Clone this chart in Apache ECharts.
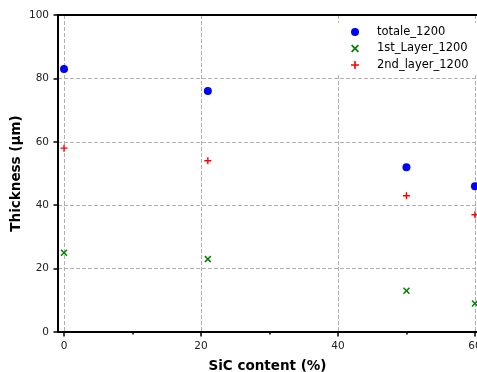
<!DOCTYPE html>
<html>
<head>
<meta charset="utf-8">
<script src="https://cdn.jsdelivr.net/npm/echarts@6/dist/echarts.min.js"></script>
<style>
html,body{margin:0;padding:0;background:#fff;}
#c{width:477px;height:372px;}
</style>
</head>
<body>
<div id="c"></div>
<script>
const sicContent = [0, 21, 50, 60];
const totale1200 = [83, 76, 52, 46];
const layer1st1200 = [25, 23, 13, 9];
const layer2nd1200 = [58, 54, 43, 37];
const xTicks = [0, 20, 40, 60];
const xMinorTicks = [10, 30, 50];
const seriesNames = ['totale_1200', '1st_Layer_1200', '2nd_layer_1200'];

const FONT = 'DejaVu Sans';
const xMin = -0.88, xMax = 60.3;
const crossPath = 'path://M0,1.5L1.5,0L5,3.5L8.5,0L10,1.5L6.5,5L10,8.5L8.5,10L5,6.5L1.5,10L0,8.5L3.5,5Z';
const plusPath = 'path://M4,0H6V4H10V6H6V10H4V6H0V4H4Z';

function pairs(xs, ys) { return xs.map((x, i) => [x, ys[i]]); }

const chart = echarts.init(document.getElementById('c'), null, {renderer: 'canvas'});
chart.setOption({
  animation: false,
  backgroundColor: '#fff',
  grid: {left: 58, right: 0, top: 15, bottom: 40, containLabel: false, outerBoundsMode: 'none'},
  legend: {
    orient: 'vertical',
    left: 336,
    top: 23,
    padding: [3, 10, 2, 15],
    backgroundColor: '#fff',
    itemWidth: 8,
    itemHeight: 8,
    itemGap: 4.5,
    data: seriesNames,
    formatter: n => '{a|' + n + '}',
    textStyle: {
      fontFamily: FONT, fontSize: 11.5, color: '#000', lineHeight: 12,
      rich: {a: {fontFamily: FONT, fontSize: 11.5, color: '#000', padding: [0, 0, 0, 13]}}
    }
  },
  xAxis: [
    {
      type: 'value', min: xMin, max: xMax, minInterval: 20, maxInterval: 20,
      name: 'SiC content (%)', nameLocation: 'middle', nameGap: 27, nameMoveOverlap: false,
      nameTextStyle: {fontFamily: FONT, fontSize: 13.5, fontWeight: 'bold', color: '#000'},
      axisLine: {show: true, onZero: false, lineStyle: {color: '#000', width: 2}},
      axisTick: {show: true, length: 4.5, lineStyle: {color: '#000', width: 1.5}, customValues: xTicks},
      axisLabel: {fontFamily: FONT, fontSize: 10.5, color: '#222', margin: 9, customValues: xTicks,
        formatter: v => (xTicks.indexOf(v) >= 0 ? String(v) : '')},
      splitLine: {show: true, lineStyle: {color: '#b0b0b0', width: 1, type: [4, 2]}}
    },
    {
      type: 'value', min: xMin, max: xMax, position: 'bottom',
      axisLine: {show: false},
      axisTick: {show: true, length: 2.5, lineStyle: {color: '#000', width: 1.5}, customValues: xMinorTicks},
      axisLabel: {show: false},
      splitLine: {show: false}
    },
    {
      type: 'value', min: xMin, max: xMax, position: 'top',
      axisLine: {show: true, onZero: false, lineStyle: {color: '#000', width: 2}},
      axisTick: {show: false}, axisLabel: {show: false}, splitLine: {show: false}
    }
  ],
  yAxis: {
    type: 'value', min: 0, max: 100, interval: 20,
    name: 'Thickness (µm)', nameLocation: 'middle', nameGap: 35, nameRotate: 90, nameMoveOverlap: false,
    nameTextStyle: {fontFamily: FONT, fontSize: 13.5, fontWeight: 'bold', color: '#000'},
    axisLine: {show: true, onZero: false, lineStyle: {color: '#000', width: 2}},
    axisTick: {show: true, length: 4.5, lineStyle: {color: '#000', width: 1.5}},
    axisLabel: {fontFamily: FONT, fontSize: 10.5, color: '#222', margin: 9},
    splitLine: {show: true, lineStyle: {color: '#b0b0b0', width: 1, type: [4, 2]}}
  },
  series: [
    {name: seriesNames[0], type: 'scatter', data: pairs(sicContent, totale1200), symbol: 'circle', symbolSize: 8,
      itemStyle: {color: '#0000ff', opacity: 1}, clip: false},
    {name: seriesNames[1], type: 'scatter', data: pairs(sicContent, layer1st1200), symbol: crossPath, symbolSize: 7,
      itemStyle: {color: '#008000', opacity: 1}, clip: false},
    {name: seriesNames[2], type: 'scatter', data: pairs(sicContent, layer2nd1200), symbol: plusPath, symbolSize: 7,
      itemStyle: {color: '#ff0000', opacity: 1}, clip: false}
  ]
});
</script>
</body>
</html>
